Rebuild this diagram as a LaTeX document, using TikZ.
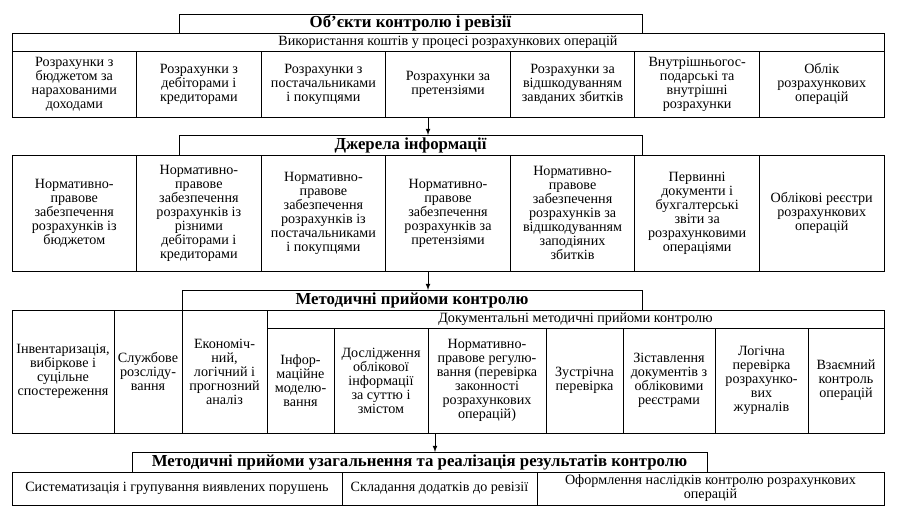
\documentclass[tikz,border=0pt]{standalone}
\usepackage{fontspec}
\setmainfont{Liberation Serif}
\usetikzlibrary{arrows,positioning}
\tikzset{cell/.style = {draw, rectangle, align=center, inner sep=1pt, outer sep=0pt, line width=0.6pt,
                        font=\fontsize{10.6}{10.5}\selectfont},
         head/.style = {cell, font=\fontsize{12.6}{13}\selectfont\bfseries},
         objcell/.style = {cell, minimum width=93.43pt, minimum height=49.5pt},
         srccell/.style = {cell, minimum width=93.43pt, minimum height=87pt},
         metcell/.style = {cell, minimum height=92.25pt},
         doccell/.style = {cell, minimum height=78.75pt},
         gencell/.style = {cell, minimum height=24.75pt},
}

\begin{document}
\begin{tikzpicture}[x=0.75pt, y=-0.75pt, node distance=0pt]
  \useasboundingbox (0,0) rectangle (897,515);

  % objects
  \node[head, anchor=north west, minimum width=347.25pt, minimum height=14.25pt] (OBJ) at (179,14) {Об’єкти контролю і ревізії};
  \node[cell, anchor=north west, minimum width=654pt, minimum height=13.5pt] (USE) at (12,33) {Використання коштів у процесі розрахункових операцій};
  \node[objcell, anchor=north west] (OBJ1) at (12,51) {Розрахунки з\\бюджетом за\\нарахованими\\доходами};
  \node[objcell, right = of OBJ1] (OBJ2) {Розрахунки з\\дебіторами і\\кредиторами};
  \node[objcell, right = of OBJ2] (OBJ3) {Розрахунки з\\постачальниками\\і покупцями};
  \node[objcell, right = of OBJ3] (OBJ4) {Розрахунки за\\претензіями};
  \node[objcell, right = of OBJ4] (OBJ5) {Розрахунки за\\відшкодуванням\\завданих збитків};
  \node[objcell, right = of OBJ5] (OBJ6) {Внутрішньогос-\\подарські та\\внутрішні\\розрахунки};
  \node[objcell, right = of OBJ6] (OBJ7) {Облік\\розрахункових\\операцій};

  % sources
  \node[head, anchor=north west, minimum width=347.25pt, minimum height=15pt] (SRC) at (179,135) {Джерела інформації};
  \node[srccell, anchor=north west] (SRC1) at (12,155) {Нормативно-\\правове\\забезпечення\\розрахунків із\\бюджетом};
  \node[srccell, right = of SRC1] (SRC2) {Нормативно-\\правове\\забезпечення\\розрахунків із\\різними\\дебіторами і\\кредиторами};
  \node[srccell, right = of SRC2] (SRC3) {Нормативно-\\правове\\забезпечення\\розрахунків із\\постачальниками\\і покупцями};
  \node[srccell, right = of SRC3] (SRC4) {Нормативно-\\правове\\забезпечення\\розрахунків за\\претензіями};
  \node[srccell, right = of SRC4] (SRC5) {Нормативно-\\правове\\забезпечення\\розрахунків за\\відшкодуванням\\заподіяних\\збитків};
  \node[srccell, right = of SRC5] (SRC6) {Первинні\\документи і\\бухгалтерські\\звіти за\\розрахунковими\\операціями};
  \node[srccell, right = of SRC6] (SRC7) {Облікові реєстри\\розрахункових\\операцій};

  % methods
  \node[head, anchor=north west, minimum width=345pt, minimum height=15pt] (MET) at (182,290) {Методичні прийоми контролю};
  \node[metcell, anchor=north west, minimum width=76.5pt] (MET1) at (12,310) {Інвентаризація,\\вибіркове і\\суцільне\\спостереження};
  \node[metcell, right = of MET1, minimum width=51pt] (MET2) {Службове\\розсліду-\\вання};
  \node[metcell, right = of MET2, minimum width=63.75pt] (MET3) {Економіч-\\ний,\\логічний і\\прогнозний\\аналіз};
  \node[cell, anchor=north west, minimum width=462.75pt, minimum height=13.5pt] (DOC) at (267,310) {Документальні методичні прийоми контролю};
  \node[doccell, anchor=north west, minimum width=50.25pt] (DOC1) at (267,328) {Інфор-\\маційне\\моделю-\\вання};
  \node[doccell, right = of DOC1, minimum width=70.5pt] (DOC2) {Дослідження\\облікової\\інформації\\за суттю і\\змістом};
  \node[doccell, right = of DOC2, minimum width=88.5pt] (DOC3) {Нормативно-\\правове регулю-\\вання (перевірка\\законності\\розрахункових\\операцій)};
  \node[doccell, right = of DOC3, minimum width=57.75pt] (DOC4) {Зустрічна\\перевірка};
  \node[doccell, right = of DOC4, minimum width=69pt] (DOC5) {Зіставлення\\документів з\\обліковими\\реєстрами};
  \node[doccell, right = of DOC5, minimum width=69.75pt] (DOC6) {Логічна\\перевірка\\розрахунко-\\вих\\журналів};
  \node[doccell, right = of DOC6, minimum width=57pt] (DOC7) {Взаємний\\контроль\\операцій};

  % generalisation
  \node[head, anchor=north west, minimum width=431.25pt, minimum height=15pt] (GEN) at (132,452) {Методичні прийоми узагальнення та реалізація результатів контролю};
  \node[gencell, anchor=north west, minimum width=247.5pt] (GEN1) at (12,472) {Систематизація і групування виявлених порушень};
  \node[gencell, right = of GEN1, minimum width=146.25pt] (GEN2) {Складання додатків до ревізії};
  \node[gencell, right = of GEN2, minimum width=260.25pt] (GEN3) {Оформлення наслідків контролю розрахункових\\операцій};

  \draw[-latex, line width=0.6pt] ([xshift=-15pt]OBJ4.south) -- ([xshift=-15pt]OBJ4.south |- SRC.north);
  \draw[-latex, line width=0.6pt] ([xshift=-15pt]SRC4.south) -- ([xshift=-15pt]SRC4.south |- MET.north);
  \draw[-latex, line width=0.6pt] ([xshift=-39pt]DOC3.south) -- ([xshift=-39pt]DOC3.south |- GEN.north);
\end{tikzpicture}
\end{document}
